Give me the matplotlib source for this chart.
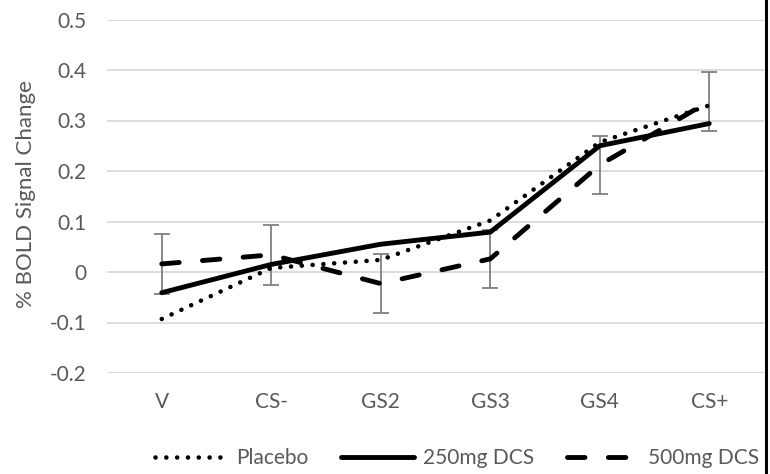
import matplotlib
matplotlib.use("Agg")
import matplotlib.pyplot as plt
from matplotlib.lines import Line2D
import numpy as np

plt.rcParams['font.family'] = ['Lato', 'DejaVu Sans']

categories = ["V", "CS-", "GS2", "GS3", "GS4", "CS+"]
placebo = [-0.093, 0.008, 0.024, 0.102, 0.257, 0.330]
dcs250 = [-0.041, 0.015, 0.055, 0.079, 0.250, 0.294]
dcs500 = [0.016, 0.034, -0.023, 0.026, 0.212, 0.338]
dcs500_err = [0.059, 0.059, 0.059, 0.058, 0.058, 0.059]
yticks = [-0.2, -0.1, 0, 0.1, 0.2, 0.3, 0.4, 0.5]
ytick_labels = ["-0.2", "-0.1", "0", "0.1", "0.2", "0.3", "0.4", "0.5"]

W, H = 770, 474
fig = plt.figure(figsize=(W / 100, H / 100), dpi=100)
ax = fig.add_axes([107 / W, 1 - 373 / H, (764 - 107) / W, (373 - 19.5) / H])

x = np.arange(len(categories))
grey = "#595959"
FS = 15

dot_style = dict(color="black", lw=3.3, linestyle=(0, (0.01, 2.35)), dash_capstyle="round")
solid_style = dict(color="black", lw=3.5, solid_capstyle="round", solid_joinstyle="round")
dash_style = dict(color="black", lw=3.5, linestyle=(0, (3.6, 4.8)), dash_capstyle="round")

ax.errorbar(x, dcs500, yerr=dcs500_err, fmt="none", ecolor="#808080",
            elinewidth=1.3, capsize=6, capthick=1.3, zorder=2)

ax.plot(x, placebo, zorder=3, label="Placebo", **dot_style)
ax.plot(x, dcs250, zorder=4, label="250mg DCS", **solid_style)
ax.plot(x, dcs500, zorder=3, label="500mg DCS", **dash_style)

ax.set_xlim(-0.5, len(categories) - 0.5)
ax.set_ylim(-0.2, 0.5)
ax.set_yticks(yticks)
ax.set_yticklabels(ytick_labels)
ax.set_xticks(x)
ax.set_xticklabels(categories)
ax.yaxis.grid(True, color="#d9d9d9", lw=1.3)
ax.set_axisbelow(True)
for s in ax.spines.values():
    s.set_visible(False)
ax.tick_params(axis="both", length=0, colors=grey, labelsize=FS)
ax.tick_params(axis="y", pad=15)
ax.tick_params(axis="x", pad=14)

fig.text(26 / W, 1 - 194.5 / H, "% BOLD Signal Change", rotation=90,
         ha="center", va="center", color=grey, fontsize=16)

handles = [
    Line2D([], [], **dot_style),
    Line2D([], [], **solid_style),
    Line2D([], [], **dash_style),
]
fig.legend(handles, ["Placebo", "250mg DCS", "500mg DCS"], loc="center",
           bbox_to_anchor=(457 / W, 1 - 458 / H), ncol=3, frameon=False,
           fontsize=FS, handlelength=3.5, columnspacing=1.6, handletextpad=0.4,
           labelcolor=grey, borderpad=0, borderaxespad=0)

fig.add_artist(Line2D([765.5 / W, 765.5 / W], [0, 1], color="black", lw=2.2,
                      transform=fig.transFigure))

fig.savefig("out.png", dpi=100)
